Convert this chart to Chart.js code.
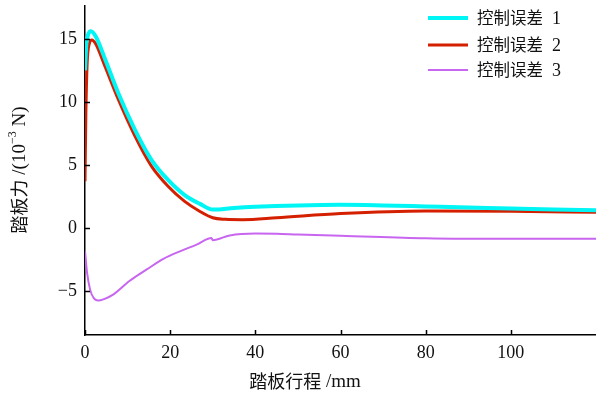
<!DOCTYPE html>
<html><head><meta charset="utf-8">
<script src="https://cdn.jsdelivr.net/npm/chart.js@4/dist/chart.umd.min.js"></script>
<style>html,body{margin:0;padding:0;background:#fff}#wrap{width:596px;height:395px}</style>
</head><body><div id="wrap"><canvas id="c" width="596" height="395"></canvas></div>
<script>
const seriesNames = ['控制误差 1', '控制误差 2', '控制误差 3'];
const s1x = [0, 0.3, 0.7, 1.4, 2.5, 4.7, 7.8, 11.7, 15.6, 19.5, 23.4, 27, 30, 35, 40, 50, 60, 70, 80, 90, 100, 110, 120];
const s1y = [12.5, 14.5, 15.3, 15.6, 15.2, 13.4, 10.7, 7.8, 5.4, 3.8, 2.6, 1.9, 1.45, 1.58, 1.67, 1.78, 1.83, 1.78, 1.7, 1.62, 1.53, 1.46, 1.4];
const s2x = [0, 0.2, 0.5, 1, 1.6, 2.5, 4.7, 7.8, 11.7, 15.6, 19.5, 23.4, 27, 30, 33, 37, 45, 60, 80, 100, 120];
const s2y = [3.7, 9, 13, 14.6, 14.9, 14.6, 12.8, 10.2, 7.3, 4.9, 3.3, 2.1, 1.3, 0.8, 0.68, 0.65, 0.8, 1.13, 1.33, 1.31, 1.24];
const s3x = [0, 0.5, 1.2, 2, 3.1, 4.5, 6.6, 10.5, 14.5, 18.4, 22.3, 26.2, 29.7, 30, 34, 40, 45, 50, 60, 80, 100, 120];
const s3y = [-1.85, -3.6, -4.9, -5.55, -5.77, -5.65, -5.3, -4.2, -3.3, -2.46, -1.86, -1.33, -0.8, -0.98, -0.6, -0.45, -0.46, -0.53, -0.62, -0.82, -0.87, -0.87];
const xTicks = [0, 20, 40, 60, 80, 100];
const yTicks = [-5, 0, 5, 10, 15];
const colors = ['#00f5f5', '#d42000', '#c866f0'];
const widths = [4, 3, 2];

const pts = (xs, ys) => xs.map((x, i) => ({x: x, y: ys[i]}));
const SERIF = '"Liberation Serif", "Times New Roman", serif';
const CJK = '"Noto Sans CJK SC", sans-serif';

const decor = {
  id: 'decor',
  afterDraw(chart) {
    const ctx = chart.ctx, a = chart.chartArea;
    const xs = chart.scales.x, ys = chart.scales.y;
    ctx.save();
    ctx.strokeStyle = '#000'; ctx.lineWidth = 1.5;
    ctx.beginPath();
    xTicks.forEach(v => { const p = Math.round(xs.getPixelForValue(v)) + 0.5; ctx.moveTo(p, a.bottom); ctx.lineTo(p, a.bottom - 5); });
    yTicks.forEach(v => { const p = Math.round(ys.getPixelForValue(v)) + 0.5; ctx.moveTo(a.left, p); ctx.lineTo(a.left + 5, p); });
    ctx.stroke();
    ctx.textBaseline = 'middle'; ctx.textAlign = 'left';
    const ly = [18, 45, 70];
    seriesNames.forEach((n, i) => {
      ctx.strokeStyle = colors[i]; ctx.lineWidth = widths[i];
      ctx.beginPath(); ctx.moveTo(428, ly[i]); ctx.lineTo(468, ly[i]); ctx.stroke();
      ctx.fillStyle = '#111';
      ctx.font = '16.5px ' + CJK;
      const cj = n.slice(0, 4);
      ctx.fillText(cj, 477, ly[i]);
      const w = ctx.measureText(cj).width;
      ctx.font = '18px ' + SERIF;
      ctx.fillText(n.slice(5), 477 + w + 9, ly[i] + 1);
    });
    ctx.fillStyle = '#111';
    const xt1 = '踏板行程';
    ctx.font = '18px ' + CJK; const w1 = ctx.measureText(xt1).width;
    ctx.font = '19px ' + SERIF; const w2 = ctx.measureText(' /mm').width;
    let sx = 305 - (w1 + w2) / 2;
    ctx.font = '18px ' + CJK; ctx.fillText(xt1, sx, 381);
    ctx.font = '19px ' + SERIF; ctx.fillText(' /mm', sx + w1, 382);
    ctx.translate(19, 170); ctx.rotate(-Math.PI / 2);
    const parts = [['踏板力', '18px ' + CJK, 0], [' /(10', '19px ' + SERIF, 1], ['−3', '12px ' + SERIF, -6], [' N)', '19px ' + SERIF, 1]];
    let tw = 0; parts.forEach(p => { ctx.font = p[1]; tw += ctx.measureText(p[0]).width; });
    let cx = -tw / 2;
    parts.forEach(p => { ctx.font = p[1]; ctx.fillText(p[0], cx, p[2]); cx += ctx.measureText(p[0]).width; });
    ctx.restore();
  }
};

new Chart(document.getElementById('c'), {
  type: 'line',
  data: {
    datasets: [
      {label: seriesNames[0], data: pts(s1x, s1y), borderColor: colors[0], borderWidth: widths[0], pointRadius: 0, cubicInterpolationMode: 'monotone', fill: false},
      {label: seriesNames[1], data: pts(s2x, s2y), borderColor: colors[1], borderWidth: widths[1], pointRadius: 0, cubicInterpolationMode: 'monotone', fill: false},
      {label: seriesNames[2], data: pts(s3x, s3y), borderColor: colors[2], borderWidth: widths[2], pointRadius: 0, cubicInterpolationMode: 'monotone', fill: false}
    ]
  },
  options: {
    responsive: false, animation: false, devicePixelRatio: 1,
    layout: {padding: {top: 6, right: 0, left: 0, bottom: 0}},
    plugins: {legend: {display: false}, tooltip: {enabled: false}},
    scales: {
      x: {
        type: 'linear', min: 0, max: 120,
        afterBuildTicks: s => { s.ticks = xTicks.map(v => ({value: v})); },
        afterFit: s => { s.height = 60; s.paddingLeft = 0; s.paddingRight = 0; },
        grid: {display: false, drawTicks: false},
        border: {display: true, color: '#000', width: 1.5},
        ticks: {color: '#111', font: {family: SERIF, size: 18}, padding: 7, maxRotation: 0, callback: v => String(v)}
      },
      y: {
        type: 'linear', min: -8.5, max: 17.6,
        afterBuildTicks: s => { s.ticks = yTicks.map(v => ({value: v})); },
        afterFit: s => { s.width = 85; s.paddingTop = 0; s.paddingBottom = 0; },
        grid: {display: false, drawTicks: false},
        border: {display: true, color: '#000', width: 1.5},
        ticks: {color: '#111', font: {family: SERIF, size: 18}, padding: 8, callback: v => String(v).replace('-', '−')}
      }
    }
  },
  plugins: [decor]
});
</script></body></html>
